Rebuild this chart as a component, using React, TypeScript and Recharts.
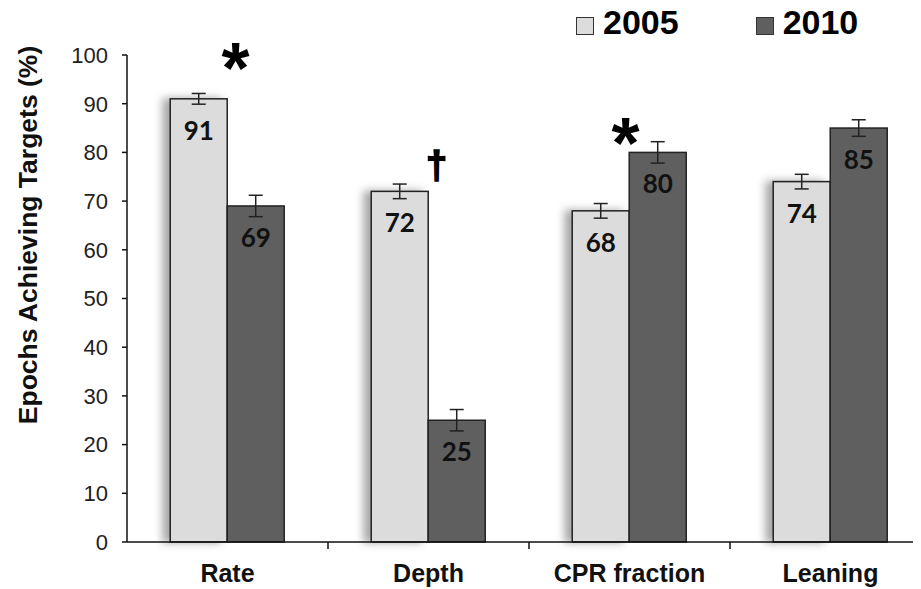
import { BarChart, Bar, XAxis, YAxis, ErrorBar, LabelList, ReferenceDot } from 'recharts';

const categories = ['Rate', 'Depth', 'CPR fraction', 'Leaning'];
const seriesNames = ['2005', '2010'];
const values2005 = [91, 72, 68, 74];
const values2010 = [69, 25, 80, 85];
const errors2005 = [1.1, 1.5, 1.5, 1.5];
const errors2010 = [2.2, 2.2, 2.2, 1.7];
const yTicks = [0, 10, 20, 30, 40, 50, 60, 70, 80, 90, 100];

// significance marks above the groups
const markCategories = ['Rate', 'Depth', 'CPR fraction'];
const markSymbols = ['*', '\u2020', '*'];
const markValues = [99.6, 77, 84.2];

const LIGHT = '#dcdcdc';
const DARK = '#5f5f5f';
const SERIES_COLORS = [LIGHT, DARK];
const EDGE = '#222';
const BAND = 201;
const MARK_DX = [8, 8, -4];

const data = categories.map((name, i) => ({
  name,
  y2005: values2005[i],
  y2010: values2010[i],
  e2005: errors2005[i],
  e2010: errors2010[i],
}));

function ShadowBar(props: any) {
  const { x, y, width, height, fill } = props;
  return (
    <rect
      x={x}
      y={y}
      width={width}
      height={height}
      fill={fill}
      stroke={EDGE}
      strokeWidth={1.5}
      filter="url(#barShadow)"
    />
  );
}

function PlainBar(props: any) {
  const { x, y, width, height, fill } = props;
  return <rect x={x} y={y} width={width} height={height} fill={fill} stroke={EDGE} strokeWidth={1.5} />;
}

function ValueLabel(props: any) {
  const { x, y, width, value } = props;
  return (
    <text
      x={x + width / 2}
      y={y + 41}
      textAnchor="middle"
      fontFamily="Lato, sans-serif"
      fontWeight={700}
      fontSize={26}
      fill="#111"
    >
      {value}
    </text>
  );
}

function CategoryTick(props: any) {
  const { x, y, payload, index } = props;
  return (
    <g>
      <text
        x={x}
        y={y + 40}
        textAnchor="middle"
        fontFamily="'Liberation Sans', Arial, sans-serif"
        fontWeight={700}
        fontSize={25}
        fill="#111"
      >
        {payload.value}
      </text>
      {index < categories.length - 1 ? (
        <line x1={x + BAND / 2} x2={x + BAND / 2} y1={y} y2={y + 7} stroke="#111" strokeWidth={1.5} />
      ) : null}
    </g>
  );
}

function LegendBox() {
  return (
    <div style={{ position: 'absolute', top: 0, left: 568, display: 'flex', alignItems: 'center', whiteSpace: 'nowrap' }}>
      {seriesNames.map((name, i) => (
        <div key={name} style={{ display: 'flex', alignItems: 'center', marginLeft: i === 0 ? 0 : 77 }}>
          <div
            style={{
              width: 16,
              height: 16,
              marginTop: 2,
              background: SERIES_COLORS[i],
              border: '1.5px solid #333',
              marginRight: 9,
            }}
          />
          <span
            style={{
              fontFamily: "'Liberation Sans', Arial, sans-serif",
              fontWeight: 700,
              fontSize: 34,
              lineHeight: '40px',
              marginTop: -6,
              color: '#000',
            }}
          >
            {name}
          </span>
        </div>
      ))}
    </div>
  );
}

function MarkShape(i: number) {
  return (props: any) => {
    const { cx, cy } = props;
    const sym = markSymbols[i];
    const isStar = sym === '*';
    return (
      <text
        x={cx + MARK_DX[i]}
        y={isStar ? cy + 36 : cy + 11}
        textAnchor="middle"
        fontFamily="'Liberation Sans', Arial, sans-serif"
        fontWeight={700}
        fontSize={isStar ? 72 : 38}
        fill="#000"
        stroke={isStar ? 'none' : '#000'}
        strokeWidth={isStar ? 0 : 1.6}
      >
        {sym}
      </text>
    );
  };
}

export default function App() {
  return (
    <div style={{ position: 'relative', width: 913, height: 581 }}>
      <div style={{ width: 913, height: 581, overflow: 'hidden' }}>
        <BarChart
          width={923}
          height={581}
          data={data}
          margin={{ top: 47, right: 0, left: 0, bottom: 0 }}
          barCategoryGap="21.5%"
          barGap={0}
        >
          <defs>
            <filter id="barShadow" x="-40%" y="-5%" width="160%" height="110%">
              <feDropShadow dx={-7} dy={0} stdDeviation={4} floodColor="#000" floodOpacity={0.35} />
            </filter>
          </defs>
          <XAxis
            dataKey="name"
            height={47}
            tickSize={0}
            tickMargin={0}
            axisLine={{ stroke: '#111', strokeWidth: 1.5 }}
            tickLine={false}
            tick={<CategoryTick />}
            interval={0}
          />
          <YAxis
            width={119}
            domain={[0, 100]}
            ticks={yTicks}
            interval={0}
            tickSize={5}
            tickMargin={14}
            axisLine={{ stroke: '#111', strokeWidth: 1.5 }}
            tickLine={{ stroke: '#111', strokeWidth: 1.5 }}
            tick={{ fontFamily: "'Liberation Sans', Arial, sans-serif", fontSize: 22, fill: '#222' }}
            label={{
              content: () => (
                <text
                  x={20}
                  y={227}
                  transform="rotate(-90 20 227)"
                  textAnchor="middle"
                  dominantBaseline="central"
                  fontFamily="'Liberation Sans', Arial, sans-serif"
                  fontWeight={700}
                  fontSize={26.5}
                  fill="#111"
                >
                  Epochs Achieving Targets (%)
                </text>
              ),
            }}
          />
          <Bar dataKey="y2005" name="2005" fill={LIGHT} shape={<ShadowBar />} isAnimationActive={false}>
            <ErrorBar dataKey="e2005" width={7} stroke="#222" strokeWidth={1.5} direction="y" />
            <LabelList dataKey="y2005" content={<ValueLabel />} />
          </Bar>
          <Bar dataKey="y2010" name="2010" fill={DARK} shape={<PlainBar />} isAnimationActive={false}>
            <ErrorBar dataKey="e2010" width={7} stroke="#222" strokeWidth={1.5} direction="y" />
            <LabelList dataKey="y2010" content={<ValueLabel />} />
          </Bar>
          {markCategories.map((cat, i) => (
            <ReferenceDot
              key={cat + i}
              x={cat}
              y={markValues[i]}
              r={0}
              ifOverflow="visible"
              shape={MarkShape(i)}
            />
          ))}
        </BarChart>
      </div>
      <LegendBox />
    </div>
  );
}
